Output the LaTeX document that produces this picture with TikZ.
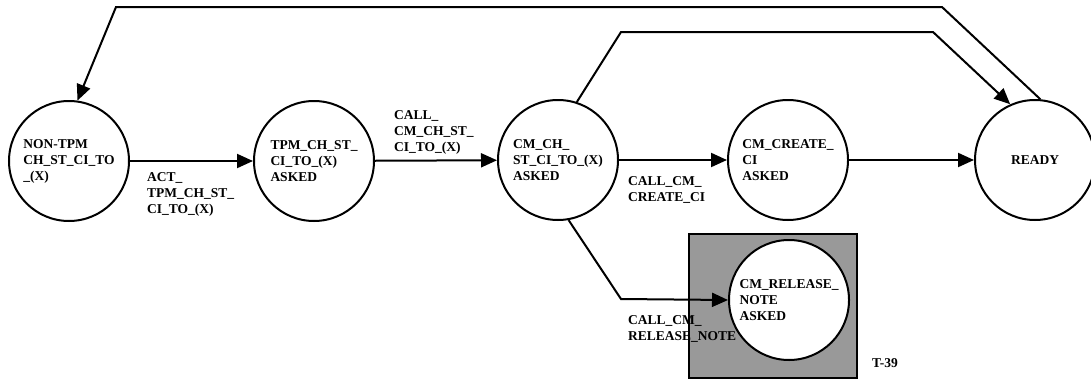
\documentclass[tikz,border=0pt]{standalone}
\usepackage{fontspec}
\setmainfont{Liberation Serif}
\usetikzlibrary{arrows.meta}
\definecolor{ink}{HTML}{000000}
\definecolor{boxgray}{HTML}{999999}
\newcommand{\statefont}{\fontsize{13.5}{16}\selectfont\bfseries}
\tikzset{
  every picture/.style = {font=\statefont, line join=miter},
  state/.style         = {circle, draw=ink, line width=2pt, fill=white,
                          minimum size=120pt, inner sep=0pt, align=left},
  flow/.style          = {line width=2pt, draw=ink, -{Triangle[length=16pt, width=14pt]}},
  plain/.style         = {line width=2pt, draw=ink},
  lbl/.style           = {anchor=north west, align=left, inner sep=0pt, text=ink},
}
\begin{document}
\begin{tikzpicture}[x=1pt, y=-1pt]
  \useasboundingbox (0,0) rectangle (1091,380);

  % the shaded frame behind the release state
  \node[plain, fill=boxgray, minimum width=168pt, minimum height=144pt,
        inner sep=0pt] (relbox) at (773,306) {};

  % states, left to right
  \node[state] (nontpm)      at (69,161)   {NON-TPM\\CH\_ST\_CI\_TO\\\_(X)};
  \node[state] (tpmasked)    at (314,161)  {TPM\_CH\_ST\_\\CI\_TO\_(X)\\ASKED};
  \node[state] (cmasked)     at (558,160)  {CM\_CH\_\\ST\_CI\_TO\_(X)\\ASKED};
  \node[state] (createasked) at (788,160)  {CM\_CREATE\_\\CI\\ASKED};
  \node[state] (ready)       at (1035,160) {READY};
  \node[state] (relasked)    at (789,300)  {CM\_RELEASE\_\\NOTE\\ASKED};

  % straight transitions along the middle row
  \draw[flow] (nontpm) -- (tpmasked);
  \draw[flow] (tpmasked) -- (cmasked);
  \draw[flow] (cmasked) -- (createasked);
  \draw[flow] (createasked) -- (ready);

  % bent transitions: over the top, and down to the release state
  \draw[flow] (cmasked.72) -- (621,32) -- (933,32) -- (ready.114);
  \draw[flow] (ready.85) -- (942,7) -- (116,7) -- (nontpm.82);
  \draw[flow] (cmasked.-80) -- (621,299) -- (relasked.west);

  % transition names
  \node[lbl] (actlbl)     at (147,172) {ACT\_\\TPM\_CH\_ST\_\\CI\_TO\_(X)};
  \node[lbl] (callchlbl)  at (394,110) {CALL\_\\CM\_CH\_ST\_\\CI\_TO\_(X)};
  \node[lbl] (createlbl)  at (628,176) {CALL\_CM\_\\CREATE\_CI};
  \node[lbl] (releaselbl) at (628,315) {CALL\_CM\_\\RELEASE\_NOTE};
  \node[lbl] (tag)        at (872,358) {T-39};
\end{tikzpicture}
\end{document}
